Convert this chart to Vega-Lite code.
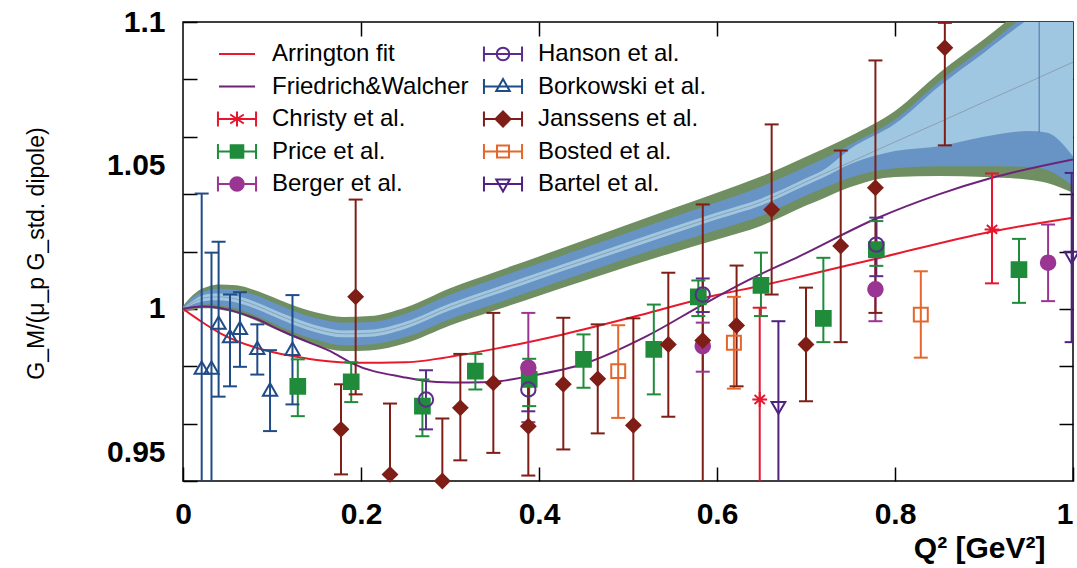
{
  "$schema": "https://vega.github.io/schema/vega-lite/v6.json",
  "width": 890,
  "height": 459,
  "autosize": {"type": "none"},
  "padding": {"left": 183, "top": 22, "right": 4, "bottom": 87},
  "config": {
    "view": {"stroke": "#000000", "strokeWidth": 1.5},
    "font": "Liberation Sans"
  },
  "datasets": {
    "band": [
      {"q": 0, "gt": 1.0010, "bt": 1.0006, "lt": 1.0002, "c": 1.0000, "lb": 0.9998, "bb": 0.9994, "gb": 0.9990},
      {"q": 0.01, "gt": 1.0045, "bt": 1.0037, "lt": 1.0026, "c": 1.0020, "lb": 1.0014, "bb": 1.0003, "gb": 0.9995},
      {"q": 0.02, "gt": 1.0068, "bt": 1.0056, "lt": 1.0045, "c": 1.0035, "lb": 1.0025, "bb": 1.0014, "gb": 1.0002},
      {"q": 0.03, "gt": 1.0080, "bt": 1.0066, "lt": 1.0053, "c": 1.0041, "lb": 1.0029, "bb": 1.0016, "gb": 1.0002},
      {"q": 0.04, "gt": 1.0085, "bt": 1.0070, "lt": 1.0054, "c": 1.0042, "lb": 1.0030, "bb": 1.0013, "gb": 0.9998},
      {"q": 0.06, "gt": 1.0082, "bt": 1.0066, "lt": 1.0046, "c": 1.0034, "lb": 1.0022, "bb": 1.0001, "gb": 0.9985},
      {"q": 0.08, "gt": 1.0066, "bt": 1.0049, "lt": 1.0026, "c": 1.0014, "lb": 1.0002, "bb": 0.9979, "gb": 0.9962},
      {"q": 0.10, "gt": 1.0042, "bt": 1.0024, "lt": 1.0000, "c": 0.9988, "lb": 0.9976, "bb": 0.9952, "gb": 0.9934},
      {"q": 0.12, "gt": 1.0017, "bt": 0.9998, "lt": 0.9974, "c": 0.9962, "lb": 0.9950, "bb": 0.9925, "gb": 0.9906},
      {"q": 0.15, "gt": 0.9987, "bt": 0.9967, "lt": 0.9942, "c": 0.9930, "lb": 0.9918, "bb": 0.9892, "gb": 0.9872},
      {"q": 0.18, "gt": 0.9972, "bt": 0.9952, "lt": 0.9925, "c": 0.9913, "lb": 0.9901, "bb": 0.9873, "gb": 0.9853},
      {"q": 0.21, "gt": 0.9975, "bt": 0.9954, "lt": 0.9927, "c": 0.9915, "lb": 0.9903, "bb": 0.9876, "gb": 0.9855},
      {"q": 0.25, "gt": 1.0005, "bt": 0.9983, "lt": 0.9955, "c": 0.9943, "lb": 0.9931, "bb": 0.9902, "gb": 0.9880},
      {"q": 0.30, "gt": 1.0072, "bt": 1.0049, "lt": 1.0019, "c": 1.0007, "lb": 0.9995, "bb": 0.9965, "gb": 0.9942},
      {"q": 0.35, "gt": 1.0128, "bt": 1.0104, "lt": 1.0073, "c": 1.0061, "lb": 1.0049, "bb": 1.0018, "gb": 0.9994},
      {"q": 0.40, "gt": 1.0183, "bt": 1.0158, "lt": 1.0127, "c": 1.0115, "lb": 1.0103, "bb": 1.0071, "gb": 1.0046},
      {"q": 0.45, "gt": 1.0238, "bt": 1.0211, "lt": 1.0180, "c": 1.0168, "lb": 1.0156, "bb": 1.0124, "gb": 1.0097},
      {"q": 0.50, "gt": 1.0294, "bt": 1.0265, "lt": 1.0233, "c": 1.0221, "lb": 1.0209, "bb": 1.0177, "gb": 1.0148},
      {"q": 0.55, "gt": 1.0350, "bt": 1.0319, "lt": 1.0285, "c": 1.0273, "lb": 1.0261, "bb": 1.0227, "gb": 1.0196},
      {"q": 0.60, "gt": 1.0405, "bt": 1.0372, "lt": 1.0336, "c": 1.0324, "lb": 1.0312, "bb": 1.0275, "gb": 1.0242},
      {"q": 0.65, "gt": 1.0462, "bt": 1.0427, "lt": 1.0385, "c": 1.0373, "lb": 1.0361, "bb": 1.0325, "gb": 1.0290},
      {"q": 0.70, "gt": 1.0530, "bt": 1.0495, "lt": 1.0455, "c": 1.0443, "lb": 1.0431, "bb": 1.0395, "gb": 1.0360},
      {"q": 0.72, "gt": 1.0558, "bt": 1.0523, "lt": 1.0485, "c": 1.0471, "lb": 1.0459, "bb": 1.0421, "gb": 1.0386},
      {"q": 0.75, "gt": 1.0603, "bt": 1.0573, "lt": 1.0558, "c": 1.0512, "lb": 1.0505, "bb": 1.0458, "gb": 1.0425},
      {"q": 0.80, "gt": 1.0690, "bt": 1.0660, "lt": 1.0645, "c": 1.0582, "lb": 1.0550, "bb": 1.0490, "gb": 1.0460},
      {"q": 0.85, "gt": 1.0823, "bt": 1.0793, "lt": 1.0777, "c": 1.0651, "lb": 1.0567, "bb": 1.0497, "gb": 1.0463},
      {"q": 0.90, "gt": 1.0940, "bt": 1.0910, "lt": 1.0893, "c": 1.0721, "lb": 1.0600, "bb": 1.0497, "gb": 1.0460},
      {"q": 0.95, "gt": 1.1060, "bt": 1.1030, "lt": 1.1010, "c": 1.0790, "lb": 1.0620, "bb": 1.0495, "gb": 1.0450},
      {"q": 0.97, "gt": 1.1100, "bt": 1.1070, "lt": 1.1050, "c": 1.0818, "lb": 1.0615, "bb": 1.0485, "gb": 1.0440},
      {"q": 1.00, "gt": 1.1180, "bt": 1.1150, "lt": 1.1130, "c": 1.0860, "lb": 1.0532, "bb": 1.0428, "gb": 1.0405}
    ],
    "vline": [{"q": 0.962, "lo": 1.0615, "hi": 1.1}],
    "fits": [
      {"series": "Arrington fit", "q": 0, "v": 1.0},
      {"series": "Arrington fit", "q": 0.01, "v": 0.9978},
      {"series": "Arrington fit", "q": 0.02, "v": 0.9957},
      {"series": "Arrington fit", "q": 0.042, "v": 0.9915},
      {"series": "Arrington fit", "q": 0.085, "v": 0.9862},
      {"series": "Arrington fit", "q": 0.124, "v": 0.9835},
      {"series": "Arrington fit", "q": 0.155, "v": 0.9820},
      {"series": "Arrington fit", "q": 0.195, "v": 0.9812},
      {"series": "Arrington fit", "q": 0.25, "v": 0.9814},
      {"series": "Arrington fit", "q": 0.31, "v": 0.9838},
      {"series": "Arrington fit", "q": 0.356, "v": 0.9864},
      {"series": "Arrington fit", "q": 0.427, "v": 0.9911},
      {"series": "Arrington fit", "q": 0.521, "v": 0.9984},
      {"series": "Arrington fit", "q": 0.596, "v": 1.0046},
      {"series": "Arrington fit", "q": 0.648, "v": 1.0080},
      {"series": "Arrington fit", "q": 0.693, "v": 1.0112},
      {"series": "Arrington fit", "q": 0.779, "v": 1.0175},
      {"series": "Arrington fit", "q": 0.909, "v": 1.0270},
      {"series": "Arrington fit", "q": 1.0, "v": 1.0318},
      {"series": "Friedrich&Walcher", "q": 0, "v": 1.0},
      {"series": "Friedrich&Walcher", "q": 0.0225, "v": 1.0008},
      {"series": "Friedrich&Walcher", "q": 0.04, "v": 1.0004},
      {"series": "Friedrich&Walcher", "q": 0.056, "v": 0.9993},
      {"series": "Friedrich&Walcher", "q": 0.08, "v": 0.9968},
      {"series": "Friedrich&Walcher", "q": 0.112, "v": 0.9922},
      {"series": "Friedrich&Walcher", "q": 0.14, "v": 0.9885},
      {"series": "Friedrich&Walcher", "q": 0.169, "v": 0.9847},
      {"series": "Friedrich&Walcher", "q": 0.19, "v": 0.9810},
      {"series": "Friedrich&Walcher", "q": 0.2475, "v": 0.9762},
      {"series": "Friedrich&Walcher", "q": 0.285, "v": 0.9745},
      {"series": "Friedrich&Walcher", "q": 0.32, "v": 0.9743},
      {"series": "Friedrich&Walcher", "q": 0.356, "v": 0.9748},
      {"series": "Friedrich&Walcher", "q": 0.388, "v": 0.9765},
      {"series": "Friedrich&Walcher", "q": 0.45, "v": 0.9808},
      {"series": "Friedrich&Walcher", "q": 0.521, "v": 0.9905},
      {"series": "Friedrich&Walcher", "q": 0.584, "v": 1.0015},
      {"series": "Friedrich&Walcher", "q": 0.633, "v": 1.0097},
      {"series": "Friedrich&Walcher", "q": 0.693, "v": 1.0184},
      {"series": "Friedrich&Walcher", "q": 0.779, "v": 1.0315},
      {"series": "Friedrich&Walcher", "q": 0.85, "v": 1.0400},
      {"series": "Friedrich&Walcher", "q": 0.909, "v": 1.0457},
      {"series": "Friedrich&Walcher", "q": 1.0, "v": 1.0521}
    ],
    "pts": [
      {"series": "Borkowski et al.", "q": 0.021, "v": 0.9795, "lo": 0.90, "hi": 1.0402},
      {"series": "Borkowski et al.", "q": 0.032, "v": 0.9795, "lo": 0.90, "hi": 1.0196},
      {"series": "Borkowski et al.", "q": 0.040, "v": 0.9952, "lo": 0.9694, "hi": 1.0234},
      {"series": "Borkowski et al.", "q": 0.0528, "v": 0.9905, "lo": 0.9730, "hi": 1.0050},
      {"series": "Borkowski et al.", "q": 0.064, "v": 0.9934, "lo": 0.9798, "hi": 1.0058},
      {"series": "Borkowski et al.", "q": 0.0835, "v": 0.9864, "lo": 0.9771, "hi": 0.9946},
      {"series": "Borkowski et al.", "q": 0.0978, "v": 0.9719, "lo": 0.9574, "hi": 0.9856},
      {"series": "Borkowski et al.", "q": 0.123, "v": 0.9861, "lo": 0.9667, "hi": 1.0048},
      {"series": "Price et al.", "q": 0.129, "v": 0.9730, "lo": 0.9626, "hi": 0.9824},
      {"series": "Price et al.", "q": 0.189, "v": 0.9746, "lo": 0.9675, "hi": 0.9814},
      {"series": "Price et al.", "q": 0.269, "v": 0.9661, "lo": 0.9556, "hi": 0.9754},
      {"series": "Price et al.", "q": 0.3285, "v": 0.9783, "lo": 0.9719, "hi": 0.9843},
      {"series": "Price et al.", "q": 0.389, "v": 0.9754, "lo": 0.9661, "hi": 0.9826},
      {"series": "Price et al.", "q": 0.450, "v": 0.9824, "lo": 0.9725, "hi": 0.9911},
      {"series": "Price et al.", "q": 0.529, "v": 0.9859, "lo": 0.9702, "hi": 1.0015},
      {"series": "Price et al.", "q": 0.579, "v": 1.0042, "lo": 0.9975, "hi": 1.0099},
      {"series": "Price et al.", "q": 0.6494, "v": 1.0082, "lo": 0.9975, "hi": 1.0196},
      {"series": "Price et al.", "q": 0.7195, "v": 0.9967, "lo": 0.9884, "hi": 1.0178},
      {"series": "Price et al.", "q": 0.779, "v": 1.0207, "lo": 1.0150, "hi": 1.0306},
      {"series": "Price et al.", "q": 0.9393, "v": 1.0137, "lo": 1.0021, "hi": 1.0244},
      {"series": "Berger et al.", "q": 0.388, "v": 0.9795, "lo": 0.9605, "hi": 0.9986},
      {"series": "Berger et al.", "q": 0.584, "v": 0.9870, "lo": 0.9781, "hi": 0.9952},
      {"series": "Berger et al.", "q": 0.778, "v": 1.0068, "lo": 0.9957, "hi": 1.0180},
      {"series": "Berger et al.", "q": 0.972, "v": 1.0161, "lo": 1.0027, "hi": 1.0294},
      {"series": "Hanson et al.", "q": 0.273, "v": 0.9684, "lo": 0.9580, "hi": 0.9786},
      {"series": "Hanson et al.", "q": 0.388, "v": 0.9719, "lo": 0.9643, "hi": 0.9800},
      {"series": "Hanson et al.", "q": 0.584, "v": 1.0050, "lo": 0.9989, "hi": 1.0106},
      {"series": "Hanson et al.", "q": 0.779, "v": 1.0224, "lo": 1.0114, "hi": 1.0318},
      {"series": "Janssens et al.", "q": 0.1775, "v": 0.9580, "lo": 0.9423, "hi": 0.9737},
      {"series": "Janssens et al.", "q": 0.194, "v": 1.0042, "lo": 0.9702, "hi": 1.0381},
      {"series": "Janssens et al.", "q": 0.2326, "v": 0.9423, "lo": 0.92, "hi": 0.9670},
      {"series": "Janssens et al.", "q": 0.2914, "v": 0.9400, "lo": 0.92, "hi": 0.9618},
      {"series": "Janssens et al.", "q": 0.3116, "v": 0.9655, "lo": 0.9472, "hi": 0.9843},
      {"series": "Janssens et al.", "q": 0.3487, "v": 0.9742, "lo": 0.9498, "hi": 0.9986},
      {"series": "Janssens et al.", "q": 0.388, "v": 0.9591, "lo": 0.9419, "hi": 0.9760},
      {"series": "Janssens et al.", "q": 0.4273, "v": 0.9737, "lo": 0.9510, "hi": 0.9969},
      {"series": "Janssens et al.", "q": 0.466, "v": 0.9756, "lo": 0.9566, "hi": 0.9946},
      {"series": "Janssens et al.", "q": 0.506, "v": 0.9594, "lo": 0.92, "hi": 0.9967},
      {"series": "Janssens et al.", "q": 0.5453, "v": 0.9876, "lo": 0.9624, "hi": 1.0126},
      {"series": "Janssens et al.", "q": 0.584, "v": 0.9890, "lo": 0.92, "hi": 1.0364},
      {"series": "Janssens et al.", "q": 0.622, "v": 0.9942, "lo": 0.9730, "hi": 1.0151},
      {"series": "Janssens et al.", "q": 0.6614, "v": 1.0346, "lo": 1.0050, "hi": 1.0643},
      {"series": "Janssens et al.", "q": 0.700, "v": 0.9876, "lo": 0.9678, "hi": 1.0074},
      {"series": "Janssens et al.", "q": 0.739, "v": 1.0219, "lo": 0.9884, "hi": 1.0552},
      {"series": "Janssens et al.", "q": 0.778, "v": 1.0422, "lo": 0.9986, "hi": 1.0866},
      {"series": "Janssens et al.", "q": 0.856, "v": 1.0910, "lo": 1.0570, "hi": 1.0997},
      {"series": "Bosted et al.", "q": 0.489, "v": 0.9783, "lo": 0.9620, "hi": 0.9943},
      {"series": "Bosted et al.", "q": 0.619, "v": 0.9882, "lo": 0.9722, "hi": 1.0042},
      {"series": "Bosted et al.", "q": 0.829, "v": 0.9980, "lo": 0.9830, "hi": 1.0131},
      {"series": "Christy et al.", "q": 0.648, "v": 0.9684, "lo": 0.90, "hi": 1.0004},
      {"series": "Christy et al.", "q": 0.909, "v": 1.0277, "lo": 1.0089, "hi": 1.0472},
      {"series": "Bartel et al.", "q": 0.669, "v": 0.9655, "lo": 0.90, "hi": 0.9957},
      {"series": "Bartel et al.", "q": 0.9985, "v": 1.0178, "lo": 0.9884, "hi": 1.0474}
    ]
  },
  "layer": [
    {
      "data": {"name": "band"},
      "mark": {"type": "area", "interpolate": "monotone", "color": "#6f8f63", "opacity": 1, "clip": true},
      "encoding": {
        "x": {"field": "q", "type": "quantitative", "scale": {"domain": [0, 1], "nice": false, "zero": false},
          "axis": {"orient": "bottom", "values": [0, 0.2, 0.4, 0.6, 0.8, 1], "format": "~g", "tickSize": -14, "tickWidth": 1.5, "tickColor": "#000000", "domain": false, "grid": false,
            "labelFont": "Liberation Sans", "labelFontSize": 30, "labelFontWeight": "bold", "labelColor": "#000000", "labelPadding": 32, "labelFlush": false,
            "labelAlign": {"condition": {"test": "datum.value == 1", "value": "right"}, "value": "center"},
            "title": "Q²   [GeV²]", "titleFont": "Liberation Sans", "titleFontSize": 30, "titleFontWeight": "bold", "titleColor": "#000000", "titleX": 862, "titleY": 67, "titleAlign": "right", "titleBaseline": "middle"}},
        "y": {"field": "gb", "type": "quantitative", "scale": {"domain": [0.94, 1.1], "nice": false, "zero": false},
          "axis": {"orient": "left", "values": [0.94, 0.95, 0.96, 0.98, 1, 1.02, 1.04, 1.05, 1.06, 1.08, 1.1],
            "labelExpr": "indexof([0.95, 1, 1.05, 1.1], datum.value) >= 0 ? format(datum.value, '~g') : ''",
            "tickOpacity": {"condition": {"test": "datum.value == 0.95 || datum.value == 1.05", "value": 0}, "value": 1},
            "tickSize": -14, "tickWidth": 1.5, "tickColor": "#000000", "domain": false, "grid": false,
            "labelFont": "Liberation Sans", "labelFontSize": 30, "labelFontWeight": "bold", "labelColor": "#000000", "labelPadding": 32, "labelFlush": false,
            "title": "G_M/(μ_p G_std. dipole)", "titleFont": "Liberation Sans", "titleFontSize": 23, "titleFontWeight": "normal", "titleColor": "#000000", "titleX": -147, "titleY": 231, "titleAngle": -90, "titleAlign": "center", "titleBaseline": "middle"}},
        "y2": {"field": "gt"}
      }
    },
    {
      "data": {"name": "band"},
      "mark": {"type": "area", "interpolate": "monotone", "color": "#6794c4", "opacity": 1, "clip": true},
      "encoding": {
        "x": {"field": "q", "type": "quantitative", "scale": {"domain": [0, 1], "nice": false, "zero": false},
          "axis": {"orient": "top", "values": [0.2, 0.4, 0.6, 0.8], "labels": false, "tickSize": -14, "tickWidth": 1.5, "tickColor": "#000000", "domain": false, "grid": false, "title": null}},
        "y": {"field": "bb", "type": "quantitative", "scale": {"domain": [0.94, 1.1], "nice": false, "zero": false},
          "axis": {"orient": "right", "values": [0.96, 0.98, 1, 1.02, 1.04, 1.06, 1.08], "labels": false, "tickSize": -14, "tickWidth": 1.5, "tickColor": "#000000", "domain": false, "grid": false, "title": null}},
        "y2": {"field": "bt"}
      }
    },
    {
      "data": {"name": "band"},
      "mark": {"type": "area", "interpolate": "monotone", "color": "#a0c7e1", "opacity": 1, "clip": true},
      "encoding": {
        "x": {"field": "q", "type": "quantitative", "scale": {"domain": [0, 1], "nice": false, "zero": false}, "axis": null},
        "y": {"field": "lb", "type": "quantitative", "scale": {"domain": [0.94, 1.1], "nice": false, "zero": false}, "axis": null},
        "y2": {"field": "lt"}
      }
    },
    {
      "data": {"name": "band"},
      "mark": {"type": "line", "interpolate": "monotone", "color": "#8795a3", "strokeWidth": 0.8, "clip": true},
      "encoding": {
        "x": {"field": "q", "type": "quantitative", "scale": {"domain": [0, 1], "nice": false, "zero": false}, "axis": null},
        "y": {"field": "c", "type": "quantitative", "scale": {"domain": [0.94, 1.1], "nice": false, "zero": false}, "axis": null}
      }
    },
    {
      "data": {"name": "vline"},
      "mark": {"type": "rule", "color": "#4b73a8", "strokeWidth": 1, "clip": true},
      "encoding": {
        "x": {"field": "q", "type": "quantitative", "scale": {"domain": [0, 1], "nice": false, "zero": false}, "axis": null},
        "y": {"field": "lo", "type": "quantitative", "scale": {"domain": [0.94, 1.1], "nice": false, "zero": false}, "axis": null},
        "y2": {"field": "hi"}
      }
    },
    {
      "data": {"name": "fits"},
      "mark": {"type": "line", "interpolate": "monotone", "strokeWidth": 2, "clip": true},
      "encoding": {
        "x": {"field": "q", "type": "quantitative", "scale": {"domain": [0, 1], "nice": false, "zero": false}, "axis": null},
        "y": {"field": "v", "type": "quantitative", "scale": {"domain": [0.94, 1.1], "nice": false, "zero": false}, "axis": null},
        "color": {"field": "series", "type": "nominal",
          "scale": {"domain": ["Arrington fit", "Friedrich&Walcher", "Christy et al.", "Price et al.", "Berger et al.", "Hanson et al.", "Borkowski et al.", "Janssens et al.", "Bosted et al.", "Bartel et al."],
            "range": ["#e8192c", "#6e2379", "#e5162e", "#1f8b3b", "#9a3593", "#5b2c8c", "#1f4b87", "#7e1e16", "#e4662c", "#4f2183"]},
          "legend": {"title": null, "orient": "none", "legendX": 38, "legendY": 16, "columns": 2, "columnPadding": 10, "rowPadding": 4.5, "padding": 0, "offset": 0,
            "symbolSize": 900, "symbolStrokeWidth": 2, "labelFont": "Liberation Sans", "labelFontSize": 24, "labelColor": "#000000", "labelOffset": 19, "labelLimit": 400,
            "encode": {"symbols": {"update": {
              "shape": {"signal": "['M-1.2,0H1.2', 'M-1.2,0H1.2', 'M-1.27,-0.5V0.5M-1.27,0H1.27M1.27,-0.5V0.5M0,-0.5V0.5M-0.45,-0.3L0.45,0.3M-0.45,0.3L0.45,-0.3', 'M-1.27,-0.5V0.5M-1.27,0H1.27M1.27,-0.5V0.5M-0.42,-0.42H0.42V0.42H-0.42Z', 'M-1.27,-0.5V0.5M-1.27,0H1.27M1.27,-0.5V0.5M-0.45,0A0.45,0.45,0,1,1,0.45,0A0.45,0.45,0,1,1,-0.45,0Z', 'M-1.27,-0.5V0.5M-1.27,0H1.27M1.27,-0.5V0.5M-0.42,0A0.42,0.42,0,1,1,0.42,0A0.42,0.42,0,1,1,-0.42,0Z', 'M-1.27,-0.5V0.5M-1.27,0H1.27M1.27,-0.5V0.5M0,-0.5L0.45,0.3H-0.45Z', 'M-1.27,-0.5V0.5M-1.27,0H1.27M1.27,-0.5V0.5M0,-0.5L0.5,0L0,0.5L-0.5,0Z', 'M-1.27,-0.5V0.5M-1.27,0H1.27M1.27,-0.5V0.5M-0.4,-0.4H0.4V0.4H-0.4Z', 'M-1.27,-0.5V0.5M-1.27,0H1.27M1.27,-0.5V0.5M-0.45,-0.3H0.45L0,0.5Z'][indexof(['Arrington fit', 'Friedrich&Walcher', 'Christy et al.', 'Price et al.', 'Berger et al.', 'Hanson et al.', 'Borkowski et al.', 'Janssens et al.', 'Bosted et al.', 'Bartel et al.'], datum.value)]"},
              "fill": {"signal": "['#ffffff', '#ffffff', '#ffffff', '#1f8b3b', '#9a3593', '#ffffff', '#ffffff', '#7e1e16', '#ffffff', '#ffffff'][indexof(['Arrington fit', 'Friedrich&Walcher', 'Christy et al.', 'Price et al.', 'Berger et al.', 'Hanson et al.', 'Borkowski et al.', 'Janssens et al.', 'Bosted et al.', 'Bartel et al.'], datum.value)]"},
              "fillOpacity": {"signal": "[0, 0, 0, 1, 1, 0, 0, 1, 0, 0][indexof(['Arrington fit', 'Friedrich&Walcher', 'Christy et al.', 'Price et al.', 'Berger et al.', 'Hanson et al.', 'Borkowski et al.', 'Janssens et al.', 'Bosted et al.', 'Bartel et al.'], datum.value)]"},
              "stroke": {"signal": "['#e8192c', '#6e2379', '#e5162e', '#1f8b3b', '#9a3593', '#5b2c8c', '#1f4b87', '#7e1e16', '#e4662c', '#4f2183'][indexof(['Arrington fit', 'Friedrich&Walcher', 'Christy et al.', 'Price et al.', 'Berger et al.', 'Hanson et al.', 'Borkowski et al.', 'Janssens et al.', 'Bosted et al.', 'Bartel et al.'], datum.value)]"},
              "size": {"value": 900},
              "strokeWidth": {"value": 2},
              "opacity": {"value": 1}
            }}}}
        }
      }
    },
    {
      "data": {"name": "pts"},
      "mark": {"type": "rule", "strokeWidth": 2, "clip": true},
      "encoding": {
        "x": {"field": "q", "type": "quantitative", "scale": {"domain": [0, 1], "nice": false, "zero": false}, "axis": null},
        "y": {"field": "lo", "type": "quantitative", "scale": {"domain": [0.94, 1.1], "nice": false, "zero": false}, "axis": null},
        "y2": {"field": "hi"},
        "color": {"field": "series", "type": "nominal",
          "scale": {"domain": ["Arrington fit", "Friedrich&Walcher", "Christy et al.", "Price et al.", "Berger et al.", "Hanson et al.", "Borkowski et al.", "Janssens et al.", "Bosted et al.", "Bartel et al."],
            "range": ["#e8192c", "#6e2379", "#e5162e", "#1f8b3b", "#9a3593", "#5b2c8c", "#1f4b87", "#7e1e16", "#e4662c", "#4f2183"]}}
      }
    },
    {
      "data": {"name": "pts"},
      "mark": {"type": "tick", "orient": "horizontal", "size": 14, "thickness": 2, "opacity": 1, "clip": true},
      "encoding": {
        "x": {"field": "q", "type": "quantitative", "scale": {"domain": [0, 1], "nice": false, "zero": false}, "axis": null},
        "y": {"field": "lo", "type": "quantitative", "scale": {"domain": [0.94, 1.1], "nice": false, "zero": false}, "axis": null},
        "color": {"field": "series", "type": "nominal",
          "scale": {"domain": ["Arrington fit", "Friedrich&Walcher", "Christy et al.", "Price et al.", "Berger et al.", "Hanson et al.", "Borkowski et al.", "Janssens et al.", "Bosted et al.", "Bartel et al."],
            "range": ["#e8192c", "#6e2379", "#e5162e", "#1f8b3b", "#9a3593", "#5b2c8c", "#1f4b87", "#7e1e16", "#e4662c", "#4f2183"]}}
      }
    },
    {
      "data": {"name": "pts"},
      "mark": {"type": "tick", "orient": "horizontal", "size": 14, "thickness": 2, "opacity": 1, "clip": true},
      "encoding": {
        "x": {"field": "q", "type": "quantitative", "scale": {"domain": [0, 1], "nice": false, "zero": false}, "axis": null},
        "y": {"field": "hi", "type": "quantitative", "scale": {"domain": [0.94, 1.1], "nice": false, "zero": false}, "axis": null},
        "color": {"field": "series", "type": "nominal",
          "scale": {"domain": ["Arrington fit", "Friedrich&Walcher", "Christy et al.", "Price et al.", "Berger et al.", "Hanson et al.", "Borkowski et al.", "Janssens et al.", "Bosted et al.", "Bartel et al."],
            "range": ["#e8192c", "#6e2379", "#e5162e", "#1f8b3b", "#9a3593", "#5b2c8c", "#1f4b87", "#7e1e16", "#e4662c", "#4f2183"]}}
      }
    },
    {
      "data": {"name": "pts"},
      "mark": {"type": "point", "strokeWidth": 2, "opacity": 1},
      "encoding": {
        "x": {"field": "q", "type": "quantitative", "scale": {"domain": [0, 1], "nice": false, "zero": false}, "axis": null},
        "y": {"field": "v", "type": "quantitative", "scale": {"domain": [0.94, 1.1], "nice": false, "zero": false}, "axis": null},
        "shape": {"field": "series", "type": "nominal",
          "scale": {"domain": ["Christy et al.", "Price et al.", "Berger et al.", "Hanson et al.", "Borkowski et al.", "Janssens et al.", "Bosted et al.", "Bartel et al."],
            "range": ["M-1,0H1M0,-1V1M-0.7,-0.6L0.7,0.6M-0.7,0.6L0.7,-0.6", "square", "circle", "circle", "triangle-up", "diamond", "square", "triangle-down"]}, "legend": null},
        "size": {"field": "series", "type": "nominal",
          "scale": {"domain": ["Christy et al.", "Price et al.", "Berger et al.", "Hanson et al.", "Borkowski et al.", "Janssens et al.", "Bosted et al.", "Bartel et al."],
            "range": [220, 190, 170, 130, 150, 150, 130, 130]}, "legend": null},
        "fill": {"field": "series", "type": "nominal",
          "scale": {"domain": ["Christy et al.", "Price et al.", "Berger et al.", "Hanson et al.", "Borkowski et al.", "Janssens et al.", "Bosted et al.", "Bartel et al."],
            "range": ["transparent", "#1f8b3b", "#9a3593", "transparent", "transparent", "#7e1e16", "transparent", "transparent"]}, "legend": null},
        "stroke": {"field": "series", "type": "nominal",
          "scale": {"domain": ["Christy et al.", "Price et al.", "Berger et al.", "Hanson et al.", "Borkowski et al.", "Janssens et al.", "Bosted et al.", "Bartel et al."],
            "range": ["#e5162e", "#1f8b3b", "#9a3593", "#5b2c8c", "#1f4b87", "#7e1e16", "#e4662c", "#4f2183"]}, "legend": null}
      }
    }
  ],
  "resolve": {"axis": {"x": "independent", "y": "independent"}}
}
